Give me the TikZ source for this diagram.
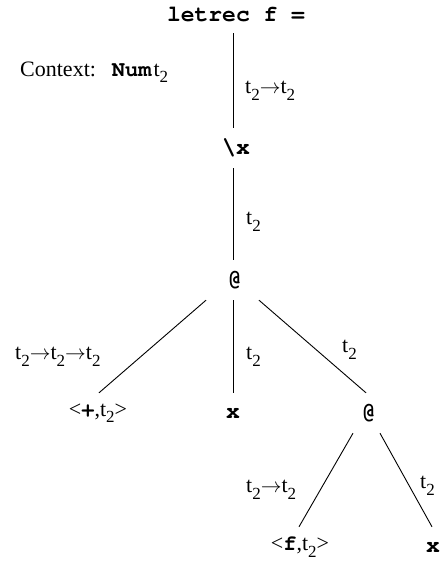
\documentclass[tikz,border=0pt]{standalone}
\usepackage{fontspec}
\setmainfont{Liberation Serif}
\setmonofont{texgyrecursor}[Extension=.otf, UprightFont=*-regular, BoldFont=*-bold]
\newcommand\tsub{t\raisebox{-0.3em}{\fontsize{17}{17}\selectfont 2}}
\newcommand\arr{$\rightarrow$}
\begin{document}
\begin{tikzpicture}[x=1pt,y=-1pt,font=\fontsize{22}{26}\selectfont,
  tn/.style={minimum height=40, inner sep=0},
  code/.style={font=\fontsize{23}{26}\selectfont\ttfamily\bfseries},
  lab/.style={anchor=west, inner sep=0},
  edge/.style={line width=0.9pt}]
\useasboundingbox (0,0) rectangle (444,562);
% tree nodes
\node[tn, code, minimum height=36] (let) at (236,15) {letrec f =};
\node[anchor=base west, inner sep=0] (ctx) at (20,76) {Context:\hspace{16pt}{\ttfamily\bfseries Num}\hspace{2pt}\tsub};
\node[tn, code] (lam) at (236,148) {\textbackslash x};
\node[tn, code] (at1) at (235,280) {@};
\node[tn] (plus) at (98,413) {<{\ttfamily\bfseries +},\tsub>};
\node[tn, code] (xv) at (233,413) {x};
\node[tn, code] (at2) at (369,413) {@};
\node[tn] (fv) at (300,547) {<{\ttfamily\bfseries f},\tsub>};
\node[tn, code] (x2) at (433,547) {x};
% edges
\draw[edge] ([xshift=-3]let.south) -- ([xshift=-3]lam.north);
\draw[edge] ([xshift=-3]lam.south) -- ([xshift=-2]at1.north);
\draw[edge] ([xshift=-29]at1.south) -- ([xshift=1]plus.north);
\draw[edge] ([xshift=-2]at1.south) -- (xv.north);
\draw[edge] ([xshift=24]at1.south) -- ([xshift=-3]at2.north);
\draw[edge] ([xshift=-16]at2.south) -- ([xshift=-1]fv.north);
\draw[edge] ([xshift=11]at2.south) -- ([xshift=-1]x2.north);
% edge labels
\node[lab] (l1) at (245,91) {\tsub\arr\tsub};
\node[lab] (l2) at (246,222) {\tsub};
\node[lab] (l3) at (15,357) {\tsub\arr\tsub\arr\tsub};
\node[lab] (l4) at (246,357) {\tsub};
\node[lab] (l5) at (342,350) {\tsub};
\node[lab] (l6) at (246,490) {\tsub\arr\tsub};
\node[lab] (l7) at (420,486) {\tsub};
\end{tikzpicture}
\end{document}
